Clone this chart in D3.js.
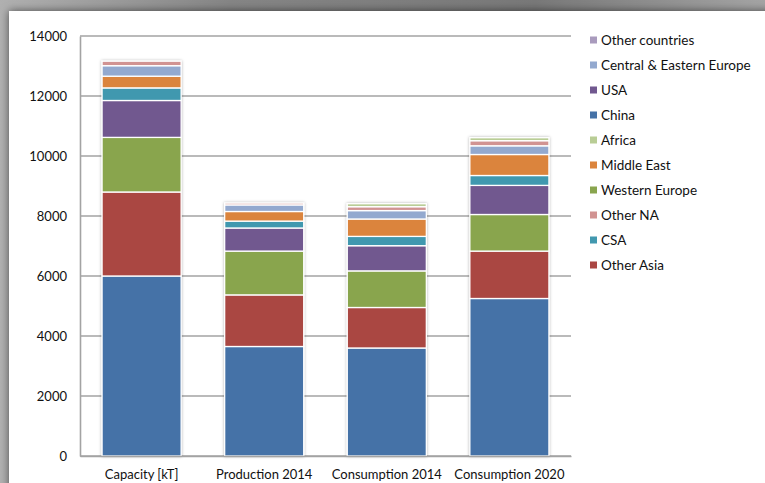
<!DOCTYPE html>
<html>
<head>
<meta charset="utf-8">
<script src="https://cdn.jsdelivr.net/npm/d3@7"></script>
<style>
  html, body { margin: 0; padding: 0; background: #9a9a9a; }
  svg { display: block; }
</style>
</head>
<body>
<svg id="chart" width="765" height="483"></svg>
<script>
// Categories along the x axis
const categories = ["Capacity [kT]", "Production 2014", "Consumption 2014", "Consumption 2020"];

// Regions, stacked bottom to top (kT)
const china          = [6000, 3650, 3600, 5250];
const otherAsia      = [2800, 1720, 1350, 1580];
const westernEurope  = [1820, 1460, 1220, 1220];
const usa            = [1230,  770,  840,  970];
const csa            = [ 420,  230,  310,  330];
const middleEast     = [ 390,  320,  580,  700];
const centralEastEu  = [ 350,  220,  280,  290];
const otherNA        = [ 150,   60,  130,  170];
const africa         = [   0,    0,  100,  100];
const otherCountries = [   0,    0,    0,    0];

const seriesNames = ["China", "Other Asia", "Western Europe", "USA", "CSA", "Middle East",
  "Central & Eastern Europe", "Other NA", "Africa", "Other countries"];
const seriesValues = [china, otherAsia, westernEurope, usa, csa, middleEast,
  centralEastEu, otherNA, africa, otherCountries];
const seriesColors = ["#4572A7", "#AA4643", "#89A54E", "#71588F", "#4198AF", "#DB843D",
  "#93A9CF", "#D19392", "#B9CD96", "#A99BBD"];

// Legend entries as listed beside the plot
const legendOrder = ["Other countries", "Central & Eastern Europe", "USA", "China", "Africa",
  "Middle East", "Western Europe", "Other NA", "CSA", "Other Asia"];

const yTicks = [0, 2000, 4000, 6000, 8000, 10000, 12000, 14000];

const FONT = "Lato, 'Open Sans', sans-serif";

const svg = d3.select("#chart");
const defs = svg.append("defs");

// Soft shadow for the white card
const cardShadow = defs.append("filter").attr("id", "cardShadow")
  .attr("x", "-5%").attr("y", "-5%").attr("width", "110%").attr("height", "110%");
cardShadow.append("feDropShadow").attr("dx", 0).attr("dy", 0)
  .attr("stdDeviation", 4).attr("flood-color", "#000").attr("flood-opacity", 0.55);

// Faint halo around the bars
const barShadow = defs.append("filter").attr("id", "barShadow")
  .attr("x", "-10%").attr("y", "-10%").attr("width", "120%").attr("height", "120%");
barShadow.append("feDropShadow").attr("dx", 0).attr("dy", 0)
  .attr("stdDeviation", 1.6).attr("flood-color", "#000").attr("flood-opacity", 0.3);

// Backdrop gradient along the top edge
const bg = defs.append("linearGradient").attr("id", "bgGrad")
  .attr("x1", "0").attr("y1", "0").attr("x2", "1").attr("y2", "0");
bg.append("stop").attr("offset", "0%").attr("stop-color", "#b0b0b0");
bg.append("stop").attr("offset", "30%").attr("stop-color", "#858585");
bg.append("stop").attr("offset", "70%").attr("stop-color", "#787878");
bg.append("stop").attr("offset", "100%").attr("stop-color", "#a4a4a4");
svg.append("rect").attr("width", 765).attr("height", 483).attr("fill", "url(#bgGrad)");

// White card
svg.append("rect").attr("x", 9).attr("y", 11).attr("width", 770).attr("height", 490)
  .attr("fill", "#fff").attr("filter", "url(#cardShadow)");

const plot = { left: 80, right: 571, top: 36, bottom: 456 };

const x = d3.scaleBand().domain(categories)
  .range([plot.left, plot.right]).paddingInner(0.355).paddingOuter(0.18);
const y = d3.scaleLinear().domain([0, 14000]).range([plot.bottom, plot.top]);

// Gridlines
svg.append("g").selectAll("line").data(yTicks).join("line")
  .attr("x1", plot.left).attr("x2", plot.right)
  .attr("y1", d => y(d)).attr("y2", d => y(d))
  .attr("stroke", "#a3a3a3").attr("stroke-width", 1.6);

// Y axis
const yAxis = svg.append("g").attr("transform", `translate(${plot.left},0)`)
  .call(d3.axisLeft(y).tickValues(yTicks).tickSize(0).tickPadding(13).tickFormat(d3.format("d")));
yAxis.select(".domain").attr("stroke", "#a3a3a3").attr("stroke-width", 1.6);
yAxis.selectAll("text").attr("font-family", FONT).attr("font-size", 13).attr("fill", "#111");

// Stacked data
const table = categories.map((c, i) => {
  const row = { category: c };
  seriesNames.forEach((s, k) => { row[s] = seriesValues[k][i]; });
  return row;
});
const stacked = d3.stack().keys(seriesNames)(table);
const color = d3.scaleOrdinal().domain(seriesNames).range(seriesColors);

const bars = svg.append("g").attr("filter", "url(#barShadow)");
bars.selectAll("g").data(stacked).join("g")
  .attr("fill", d => color(d.key))
  .selectAll("rect").data(d => d.filter(p => p[1] - p[0] > 0)).join("rect")
  .attr("x", d => x(d.data.category))
  .attr("width", x.bandwidth())
  .attr("y", d => y(d[1]))
  .attr("height", d => y(d[0]) - y(d[1]))
  .attr("stroke", "#fff").attr("stroke-width", 1.3);

// X axis
const xAxis = svg.append("g").attr("transform", `translate(0,${plot.bottom})`)
  .call(d3.axisBottom(x).tickSize(0).tickPadding(14));
xAxis.select(".domain").attr("stroke", "#a3a3a3").attr("stroke-width", 1.6);
xAxis.selectAll("text").attr("font-family", FONT).attr("font-size", 13).attr("fill", "#111");

// Legend
const legend = svg.append("g").attr("transform", "translate(590,40)");
const items = legend.selectAll("g").data(legendOrder).join("g")
  .attr("transform", (d, i) => `translate(0,${i * 25})`);
items.append("rect").attr("x", 0).attr("y", -3.5).attr("width", 7).attr("height", 7)
  .attr("fill", d => color(d));
items.append("text").attr("x", 11).attr("y", 0).attr("dy", "0.35em")
  .attr("font-family", FONT).attr("font-size", 13.5).attr("fill", "#111")
  .text(d => d);
</script>
</body>
</html>
